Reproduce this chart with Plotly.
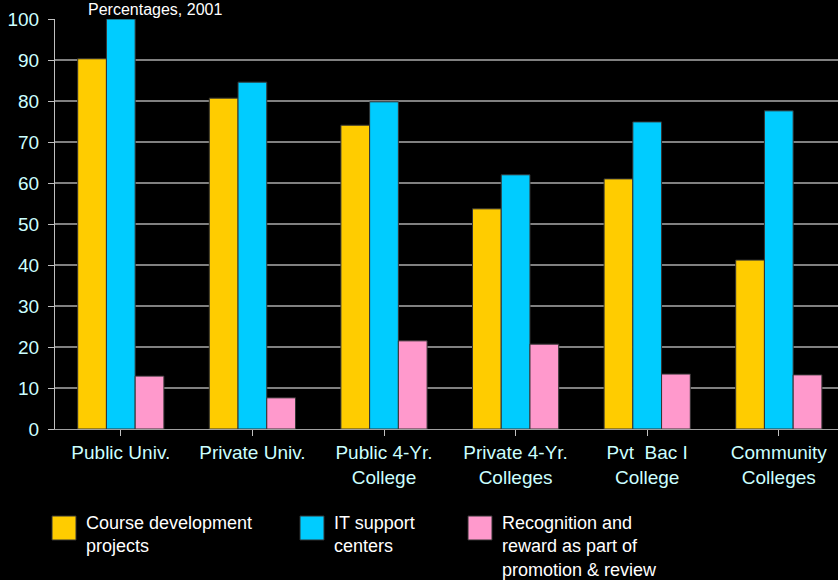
import plotly.graph_objects as go

categories = ["Public Univ.", "Private Univ.", "Public 4-Yr.<br>College", "Private 4-Yr.<br>Colleges",
              "Pvt\u00a0 Bac I<br>College", "Community<br>Colleges"]
series_names = ["Course development<br>projects", "IT support<br>centers",
                "Recognition and<br>reward as part of<br>promotion & review"]
course_dev = [90.3, 80.7, 74.1, 53.7, 61.0, 41.2]
it_support = [100.0, 84.6, 79.8, 62.0, 74.9, 77.6]
recognition = [12.9, 7.6, 21.5, 20.7, 13.4, 13.2]
colors = ["#FFCC00", "#00CCFF", "#FF99CC"]
y_ticks = [0, 10, 20, 30, 40, 50, 60, 70, 80, 90, 100]

FONT = "Liberation Sans, Arial, sans-serif"
LABEL_COLOR = "#CCFFFF"

fig = go.Figure()
for name, vals, col in zip(series_names, [course_dev, it_support, recognition], colors):
    fig.add_trace(go.Bar(x=list(range(len(categories))), y=vals, name=name,
                         marker=dict(color=col, line=dict(color="#333333", width=1)),
                         showlegend=False))

W, H = 838, 580
ml, mr, mt, mb = 55, 0, 19, 151
pw = W - ml - mr
ph = H - mt - mb
cat_w = 131.6
x_max = -0.5 + pw / cat_w

fig.update_layout(
    width=W, height=H,
    margin=dict(l=ml, r=mr, t=mt, b=mb),
    paper_bgcolor="black", plot_bgcolor="black",
    barmode="group", bargap=0.345, bargroupgap=0,
    font=dict(family=FONT, size=18, color=LABEL_COLOR),
    xaxis=dict(range=[-0.5, x_max], tickmode="array", tickvals=list(range(len(categories))),
               ticktext=categories, ticks="outside", ticklen=6, tickcolor="#C0C0C0",
               tickson="boundaries", showgrid=False, showline=True, linecolor="#A0A0A0",
               linewidth=1, zeroline=False, tickfont=dict(size=19, color=LABEL_COLOR)),
    yaxis=dict(range=[0, 100], tickmode="array", tickvals=y_ticks, ticks="outside",
               ticklen=6, tickcolor="#C0C0C0", showgrid=True, gridcolor="#808080",
               gridwidth=1.5, showline=True, linecolor="#C0C0C0", linewidth=1,
               zeroline=False, ticklabelstandoff=5,
               tickfont=dict(size=19, color=LABEL_COLOR)),
)

# Title text (at the very top)
fig.add_annotation(text="Percentages, 2001", xref="paper", yref="paper",
                   x=(155 - ml) / pw, y=1 + (mt - 10) / ph, xanchor="center", yanchor="middle",
                   showarrow=False, font=dict(family=FONT, size=16, color="white"))

# Manual legend
legend_x = [52, 300, 468]
for lx, name, col in zip(legend_x, series_names, colors):
    fig.add_shape(type="rect", xref="paper", yref="paper",
                  x0=(lx - ml) / pw, x1=(lx + 24 - ml) / pw,
                  y0=-(516 - mt - ph + 24) / ph, y1=-(516 - mt - ph) / ph,
                  fillcolor=col, line=dict(color="#333333", width=1))
    fig.add_annotation(text=name, xref="paper", yref="paper",
                       x=(lx + 32 - ml) / pw, y=-(511 - mt - ph) / ph,
                       xanchor="left", yanchor="top", align="left", showarrow=False,
                       font=dict(family=FONT, size=18, color="white"))

fig.write_html("out.html", config={"displayModeBar": False},
               post_script="document.body.style.margin='0';document.body.style.background='black';"
                           "document.documentElement.style.background='black';")
